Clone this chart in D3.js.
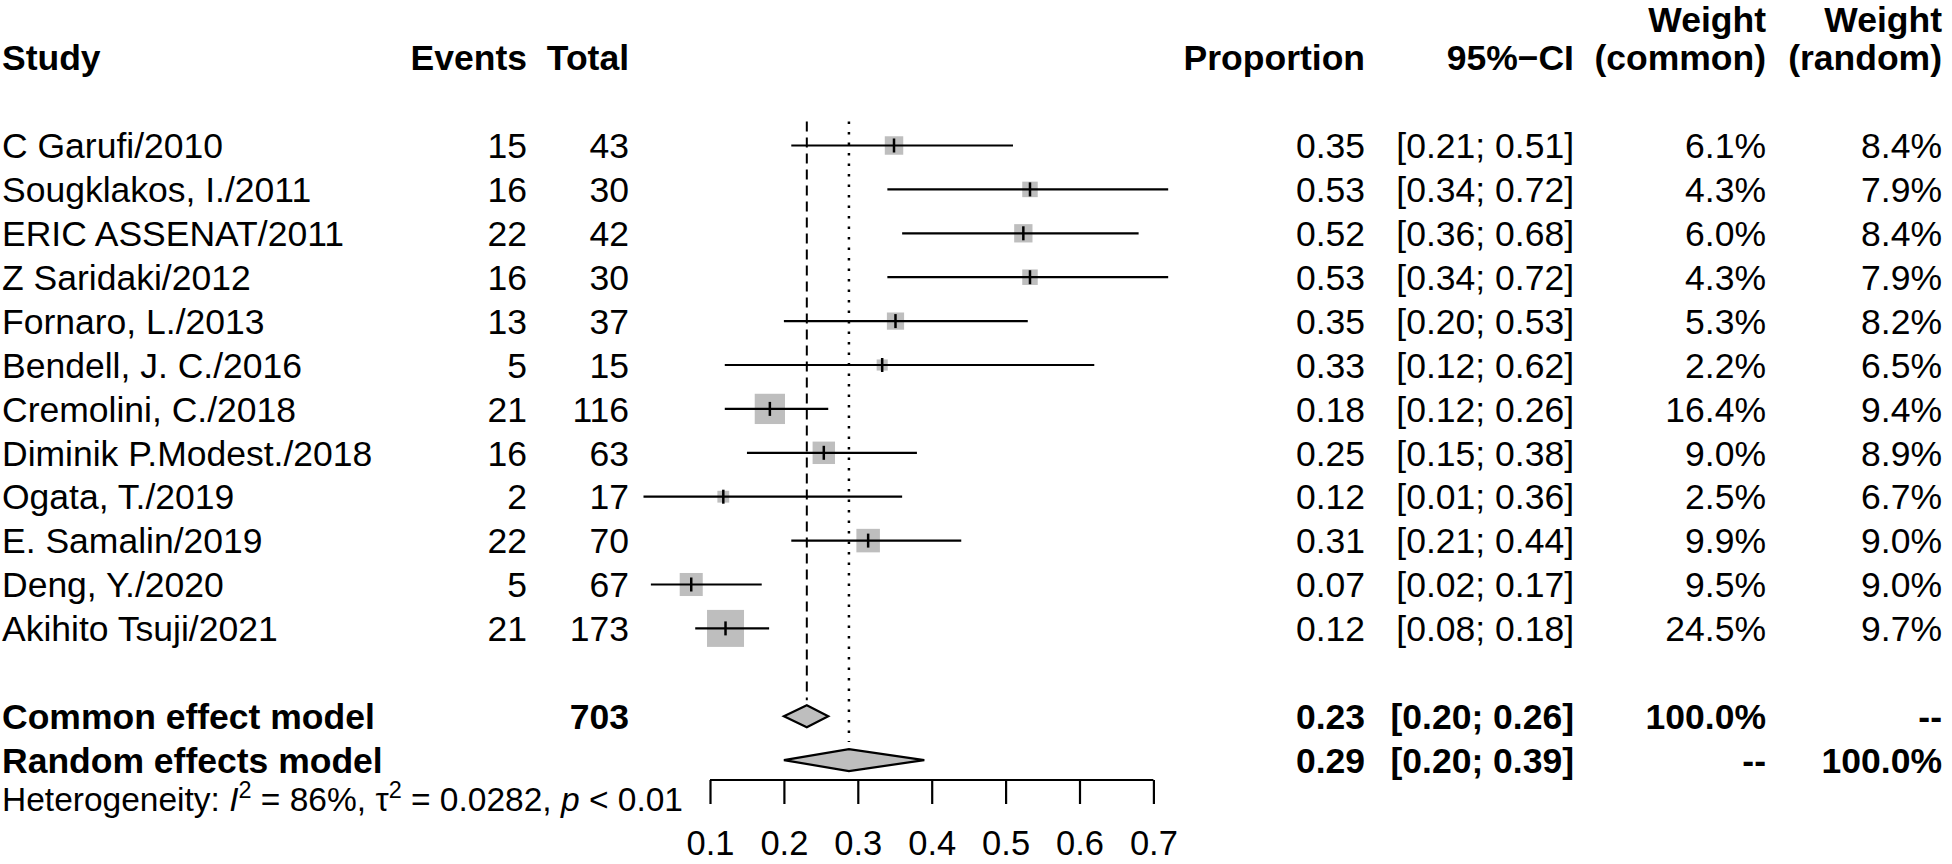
<!DOCTYPE html>
<html>
<head>
<meta charset="utf-8">
<script src="https://cdn.jsdelivr.net/npm/d3@7/dist/d3.min.js"></script>
<style>
  html, body { margin: 0; padding: 0; background: #fff; }
  svg { display: block; }
  text { font-family: "Liberation Sans", Arial, Helvetica, sans-serif; fill: #000; }
</style>
</head>
<body>
<svg id="chart" width="1952" height="864"></svg>
<script>
// ---------- data ----------
const studies = ["C Garufi/2010", "Sougklakos, I./2011", "ERIC ASSENAT/2011", "Z Saridaki/2012",
  "Fornaro, L./2013", "Bendell, J. C./2016", "Cremolini, C./2018", "Diminik P.Modest./2018",
  "Ogata, T./2019", "E. Samalin/2019", "Deng, Y./2020", "Akihito Tsuji/2021"];
const events = [15, 16, 22, 16, 13, 5, 21, 16, 2, 22, 5, 21];
const totals = [43, 30, 42, 30, 37, 15, 116, 63, 17, 70, 67, 173];
const proportions = [0.349, 0.533, 0.524, 0.533, 0.351, 0.333, 0.181, 0.254, 0.118, 0.314, 0.0746, 0.121];
const lowers = [0.21, 0.34, 0.36, 0.34, 0.20, 0.12, 0.12, 0.15, 0.01, 0.21, 0.02, 0.08];
const uppers = [0.51, 0.72, 0.68, 0.72, 0.53, 0.62, 0.26, 0.38, 0.36, 0.44, 0.17, 0.18];
const weightsCommon = [6.1, 4.3, 6.0, 4.3, 5.3, 2.2, 16.4, 9.0, 2.5, 9.9, 9.5, 24.5];
const weightsRandom = [8.4, 7.9, 8.4, 7.9, 8.2, 6.5, 9.4, 8.9, 6.7, 9.0, 9.0, 9.7];

const summaryLabels = ["Common effect model", "Random effects model"];
const summaryEst = [0.231, 0.288];
const summaryLow = [0.20, 0.20];
const summaryHigh = [0.26, 0.39];
const summaryWCommon = ["100.0%", "--"];
const summaryWRandom = ["--", "100.0%"];
const totalN = 703;

const tickValues = [0.1, 0.2, 0.3, 0.4, 0.5, 0.6, 0.7];
const hetText = { i2: "86%", tau2: "0.0282", p: "0.01" };

// ---------- layout ----------
const svg = d3.select("#chart");
const FS = 35.5;
const x = d3.scaleLinear().domain([0.1, 0.7]).range([710, 1153.4]);
const rowY = d3.scaleLinear().domain([0, 1]).range([145.5, 189.4]); // row index -> center y
const sq = d3.scaleSqrt().domain([0, 24.5]).range([0, 37]);
const f2 = d3.format(".2f");
const f1 = d3.format(".1f");
const base = y => y + FS * 0.36;

const col = { study: 2, events: 527, total: 629, prop: 1365, ci: 1574, wc: 1766, wr: 1942 };

// headers
const hdr = svg.append("g").attr("font-weight", "bold").attr("font-size", FS);
const h2 = rowY(-2), h1 = rowY(-2) - 38;
hdr.append("text").attr("x", col.study).attr("y", base(h2)).text("Study");
hdr.append("text").attr("x", col.events).attr("y", base(h2)).attr("text-anchor", "end").text("Events");
hdr.append("text").attr("x", col.total).attr("y", base(h2)).attr("text-anchor", "end").text("Total");
hdr.append("text").attr("x", col.prop).attr("y", base(h2)).attr("text-anchor", "end").text("Proportion");
hdr.append("text").attr("x", col.ci).attr("y", base(h2)).attr("text-anchor", "end").text("95%\u2212CI");
hdr.append("text").attr("x", col.wc).attr("y", base(h1)).attr("text-anchor", "end").text("Weight");
hdr.append("text").attr("x", col.wc).attr("y", base(h2)).attr("text-anchor", "end").text("(common)");
hdr.append("text").attr("x", col.wr).attr("y", base(h1)).attr("text-anchor", "end").text("Weight");
hdr.append("text").attr("x", col.wr).attr("y", base(h2)).attr("text-anchor", "end").text("(random)");

// reference lines
const yTop = rowY(0) - 24;
svg.append("line").attr("x1", x(summaryEst[0])).attr("x2", x(summaryEst[0]))
  .attr("y1", yTop).attr("y2", rowY(13) - 16)
  .attr("stroke", "#000").attr("stroke-width", 2).attr("stroke-dasharray", "10,6");
svg.append("line").attr("x1", x(summaryEst[1])).attr("x2", x(summaryEst[1]))
  .attr("y1", yTop).attr("y2", rowY(14) - 18)
  .attr("stroke", "#000").attr("stroke-width", 2.5).attr("stroke-dasharray", "2.5,8")
  .attr("stroke-linecap", "butt");

// study rows
const rows = svg.append("g").selectAll("g").data(studies).join("g")
  .attr("transform", (d, i) => `translate(0,${rowY(i)})`);
rows.append("rect")
  .attr("x", (d, i) => x(proportions[i]) - sq(weightsCommon[i]) / 2)
  .attr("y", (d, i) => -sq(weightsCommon[i]) / 2)
  .attr("width", (d, i) => sq(weightsCommon[i]))
  .attr("height", (d, i) => sq(weightsCommon[i]))
  .attr("fill", "#bebebe");
rows.append("line")
  .attr("x1", (d, i) => x(lowers[i])).attr("x2", (d, i) => x(uppers[i]))
  .attr("y1", 0).attr("y2", 0).attr("stroke", "#000").attr("stroke-width", 2.2);
rows.append("line")
  .attr("x1", (d, i) => x(proportions[i])).attr("x2", (d, i) => x(proportions[i]))
  .attr("y1", -7).attr("y2", 7).attr("stroke", "#000").attr("stroke-width", 2.5);

const rt = rows.append("g").attr("font-size", FS);
rt.append("text").attr("x", col.study).attr("y", base(0)).text(d => d);
rt.append("text").attr("x", col.events).attr("y", base(0)).attr("text-anchor", "end").text((d, i) => events[i]);
rt.append("text").attr("x", col.total).attr("y", base(0)).attr("text-anchor", "end").text((d, i) => totals[i]);
rt.append("text").attr("x", col.prop).attr("y", base(0)).attr("text-anchor", "end").text((d, i) => f2(proportions[i]));
rt.append("text").attr("x", col.ci).attr("y", base(0)).attr("text-anchor", "end")
  .text((d, i) => `[${f2(lowers[i])}; ${f2(uppers[i])}]`);
rt.append("text").attr("x", col.wc).attr("y", base(0)).attr("text-anchor", "end").text((d, i) => f1(weightsCommon[i]) + "%");
rt.append("text").attr("x", col.wr).attr("y", base(0)).attr("text-anchor", "end").text((d, i) => f1(weightsRandom[i]) + "%");

// summary rows
const srows = svg.append("g").selectAll("g").data(summaryLabels).join("g")
  .attr("transform", (d, i) => `translate(0,${rowY(13 + i)})`);
const dh = 11;
srows.append("path")
  .attr("d", (d, i) => `M${x(summaryLow[i])},0 L${x(summaryEst[i])},${-dh} L${x(summaryHigh[i])},0 L${x(summaryEst[i])},${dh} Z`)
  .attr("fill", "#bebebe").attr("stroke", "#000").attr("stroke-width", 2.2).attr("stroke-linejoin", "miter");
const st = srows.append("g").attr("font-size", FS).attr("font-weight", "bold");
st.append("text").attr("x", col.study).attr("y", base(0)).text(d => d);
st.append("text").attr("x", col.total).attr("y", base(0)).attr("text-anchor", "end").text((d, i) => i === 0 ? totalN : "");
st.append("text").attr("x", col.prop).attr("y", base(0)).attr("text-anchor", "end").text((d, i) => f2(summaryEst[i]));
st.append("text").attr("x", col.ci).attr("y", base(0)).attr("text-anchor", "end")
  .text((d, i) => `[${f2(summaryLow[i])}; ${f2(summaryHigh[i])}]`);
st.append("text").attr("x", col.wc).attr("y", base(0)).attr("text-anchor", "end").text((d, i) => summaryWCommon[i]);
st.append("text").attr("x", col.wr).attr("y", base(0)).attr("text-anchor", "end").text((d, i) => summaryWRandom[i]);

// heterogeneity
const HFS = 33.5;
const het = svg.append("text").attr("x", col.study).attr("y", 811).attr("font-size", HFS);
het.append("tspan").text("Heterogeneity: ");
het.append("tspan").attr("font-style", "italic").text("I");
het.append("tspan").attr("font-size", HFS * 0.7).attr("dy", -13).text("2");
het.append("tspan").attr("dy", 13).text(` = ${hetText.i2}, \u03c4`);
het.append("tspan").attr("font-size", HFS * 0.7).attr("dy", -13).text("2");
het.append("tspan").attr("dy", 13).text(` = ${hetText.tau2}, `);
het.append("tspan").attr("font-style", "italic").text("p");
het.append("tspan").text(` < ${hetText.p}`);

// axis
const axisY = 780;
const axis = d3.axisBottom(x).tickValues(tickValues).tickSize(24).tickPadding(27).tickFormat(d3.format(".1f"));
const ag = svg.append("g").attr("transform", `translate(0,${axisY})`).call(axis);
ag.select(".domain").attr("stroke", "#000").attr("stroke-width", 2.2).attr("d", `M${x(0.1)},0H${x(0.7)}`);
ag.selectAll(".tick line").attr("stroke", "#000").attr("stroke-width", 2.2);
ag.selectAll(".tick text").attr("font-size", 34.5).attr("font-family", "Liberation Sans, Arial, sans-serif").attr("fill", "#000");
</script>
</body>
</html>
